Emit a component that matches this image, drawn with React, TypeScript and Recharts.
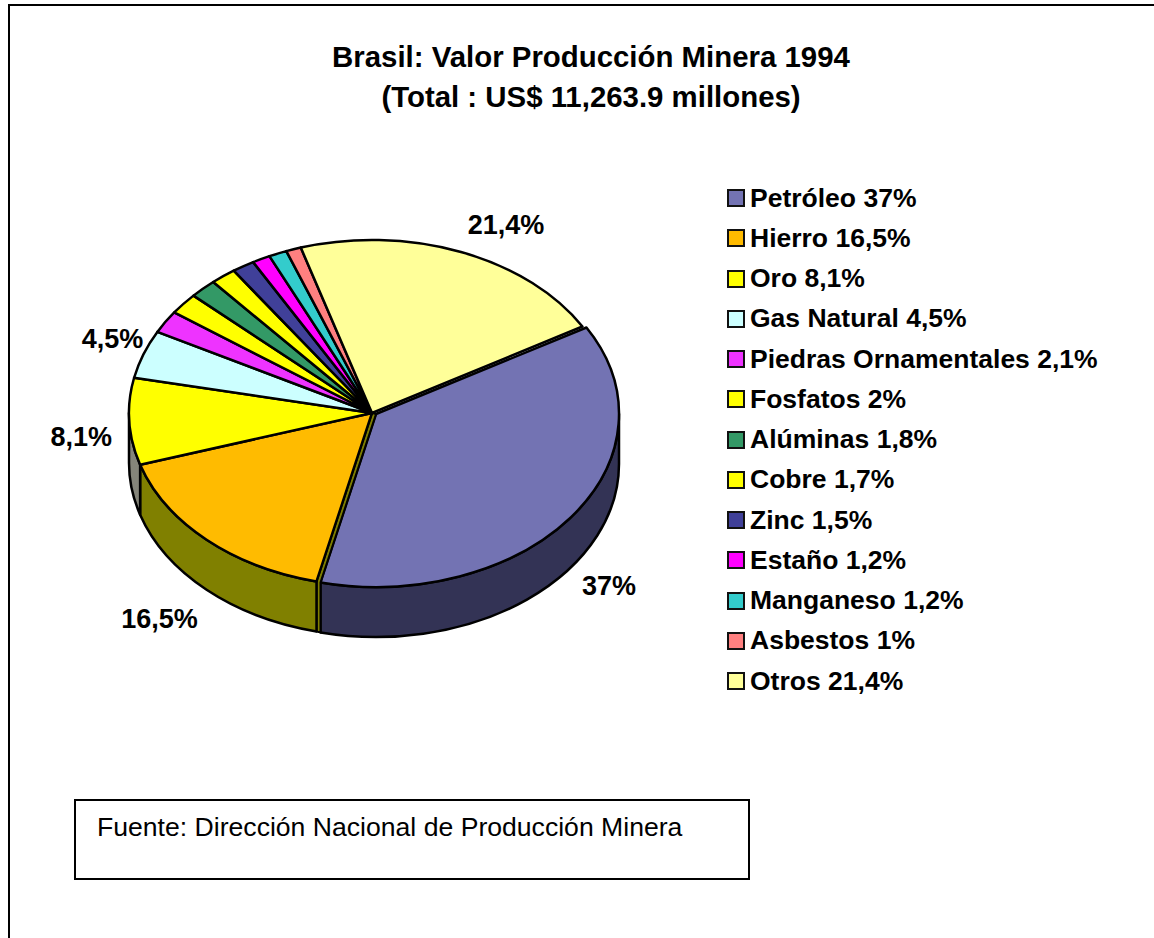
import React from 'react';
import { PieChart, Pie, Legend } from 'recharts';

const categories = ['Petróleo', 'Hierro', 'Oro', 'Gas Natural', 'Piedras Ornamentales', 'Fosfatos', 'Alúminas', 'Cobre', 'Zinc', 'Estaño', 'Manganeso', 'Asbestos', 'Otros'];
const shares = [37, 16.5, 8.1, 4.5, 2.1, 2, 1.8, 1.7, 1.5, 1.2, 1.2, 1, 21.4];
const topColors = ['#7373B3', '#FFBB00', '#FFFF00', '#CCFFFF', '#EE33FF', '#FFFF00', '#339966', '#FFFF00', '#404099', '#FF00FF', '#33CCCC', '#FF8080', '#FFFF99'];
const sideColors = ['#333355', '#808000', '#85857A', '#666680', '#771A80', '#808000', '#1A4D33', '#808000', '#20204D', '#800080', '#1A6666', '#804040', '#80804D'];

const data = categories.map((name, i) => ({ name, value: shares[i], fill: topColors[i], side: sideColors[i] }));

const fmt = (v: number) => String(v).replace('.', ',') + '%';

const FONT = '"Liberation Sans", Arial, sans-serif';
const FLATTEN = 173 / 243;
const DEPTH = 50;
const RAD = Math.PI / 180;
// the first slice sits a little away from the rest of the pie
const PULL_X = 4;
const PULL_Y = 1;

// where each outside label goes relative to the rim of its slice
const labelNudge: Record<string, [number, number]> = {
  'Petróleo': [42, 70],
  'Hierro': [-47, 79],
  'Oro': [-48, 15],
  'Gas Natural': [-31, -15],
  'Otros': [45, -27],
};

const SliceShape = (props: any) => {
  const pulled = props.name === categories[0];
  const cx = props.cx + (pulled ? PULL_X : 0);
  const cy = props.cy + (pulled ? PULL_Y : 0);
  const rx = props.outerRadius;
  const ry = rx * FLATTEN;
  const s = props.startAngle;
  const e = props.endAngle;
  const pt = (a: number, dy = 0) => `${cx + rx * Math.cos(a * RAD)} ${cy - ry * Math.sin(a * RAD) + dy}`;
  const large = s - e > 180 ? 1 : 0;

  // wall only shows on the front half of the rim
  const ws = Math.min(s, 0);
  const we = Math.max(e, -180);
  const wall = ws > we
    ? `M${pt(ws)} A${rx} ${ry} 0 0 1 ${pt(we)} L${pt(we, DEPTH)} A${rx} ${ry} 0 0 0 ${pt(ws, DEPTH)} Z`
    : null;

  // olive strip in the gap next to the pulled slice
  let gap = null;
  if (props.name === categories[1]) {
    const ex = cx + rx * Math.cos(s * RAD);
    const ey = cy - ry * Math.sin(s * RAD);
    gap = `M${cx} ${cy} L${ex} ${ey} L${ex} ${ey + DEPTH} L${ex + PULL_X} ${ey + DEPTH + PULL_Y} L${ex + PULL_X} ${ey + PULL_Y} L${cx + PULL_X} ${cy + PULL_Y} Z`;
  }

  return (
    <g>
      {gap && <path d={gap} fill={props.side} stroke="#000" strokeWidth={2} />}
      {wall && <path d={wall} fill={props.side} stroke="#000" strokeWidth={2.5} strokeLinejoin="round" />}
      <path
        d={`M${cx} ${cy} L${pt(s)} A${rx} ${ry} 0 ${large} 1 ${pt(e)} Z`}
        fill={props.fill}
        stroke="#000"
        strokeWidth={2.5}
        strokeLinejoin="round"
      />
    </g>
  );
};

const renderLabel = (props: any) => {
  const nudge = labelNudge[props.name];
  if (!nudge) return null;
  const rx = props.outerRadius;
  const x = props.cx + rx * Math.cos(props.midAngle * RAD) + nudge[0];
  const y = props.cy - rx * FLATTEN * Math.sin(props.midAngle * RAD) + nudge[1];
  return (
    <text x={x} y={y} textAnchor="middle" dominantBaseline="central" fontFamily={FONT} fontWeight="bold" fontSize={27} fill="#000">
      {fmt(props.value)}
    </text>
  );
};

const LegendList = ({ payload }: any) => (
  <div style={{ fontFamily: FONT }}>
    {(payload || []).map((p: any) => (
      <div key={p.value} style={{ display: 'flex', alignItems: 'center', height: 40.25 }}>
        <span style={{ width: 14, height: 14, background: p.payload.fill, border: '2px solid #111', marginLeft: 1, marginRight: 5 }} />
        <span style={{ fontWeight: 'bold', fontSize: 26.5, color: '#000', whiteSpace: 'nowrap' }}>
          {p.value} {fmt(p.payload.value)}
        </span>
      </div>
    ))}
  </div>
);

export default function App() {
  return (
    <div style={{ position: 'absolute', left: 0, top: 0, width: 1154, height: 938, overflow: 'hidden', background: '#fff' }}>
      <div style={{ position: 'absolute', left: 8, top: 4, width: 1300, height: 1100, border: '2px solid #000' }} />
      <div style={{ position: 'absolute', left: 291, top: 37, width: 600, textAlign: 'center', fontFamily: FONT, fontWeight: 'bold', fontSize: 29.4, lineHeight: '40px', color: '#000' }}>
        Brasil: Valor Producción Minera 1994
        <br />
        (Total : US$ 11,263.9 millones)
      </div>
      <PieChart width={1154} height={938} margin={{ top: 0, right: 0, bottom: 0, left: 0 }} style={{ position: 'absolute', left: 0, top: 0 }}>
        <Pie
          data={data}
          dataKey="value"
          nameKey="name"
          cx={372}
          cy={413}
          outerRadius={243}
          startAngle={30}
          endAngle={-330}
          paddingAngle={0}
          shape={SliceShape}
          activeShape={SliceShape}
          inactiveShape={SliceShape}
          label={renderLabel}
          labelLine={false}
          isAnimationActive={false}
        />
        <Legend
          layout="vertical"
          align="right"
          verticalAlign="top"
          itemSorter={null}
          content={<LegendList />}
          wrapperStyle={{ left: 726, right: 'auto', top: 178, width: 420 }}
        />
      </PieChart>
      <div style={{ position: 'absolute', left: 74, top: 799, width: 672, height: 77, border: '2px solid #000', boxSizing: 'content-box', fontFamily: FONT, fontSize: 26.6, color: '#000' }}>
        <span style={{ position: 'absolute', left: 21, top: 11, whiteSpace: 'nowrap' }}>Fuente: Dirección Nacional de Producción Minera</span>
      </div>
    </div>
  );
}
